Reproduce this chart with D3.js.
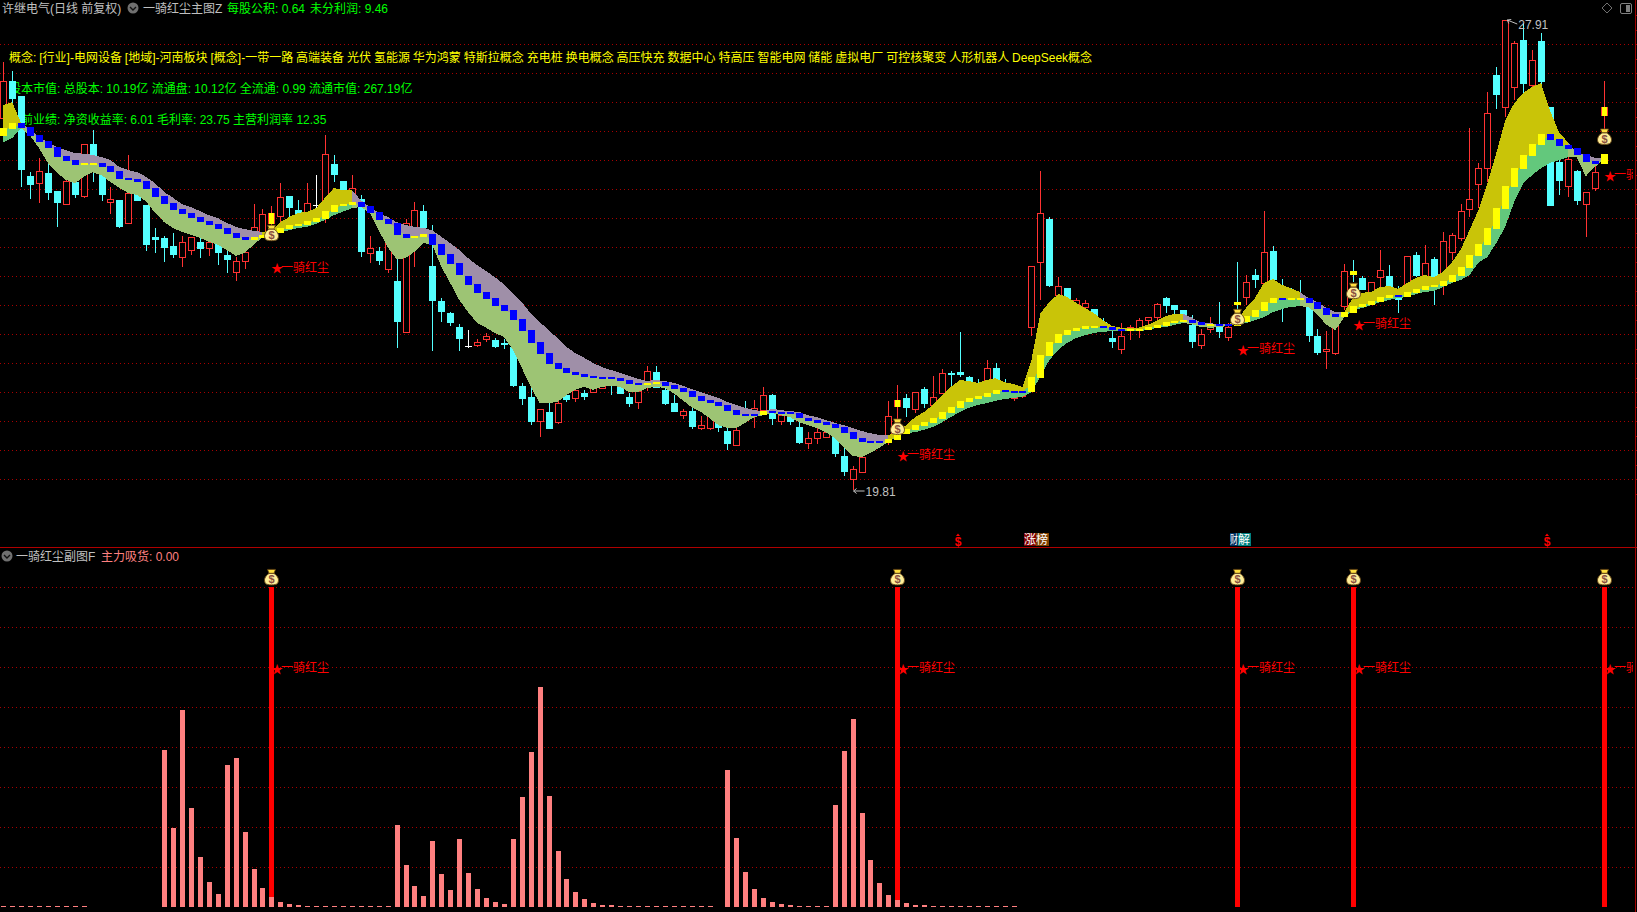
<!DOCTYPE html>
<html><head><meta charset="utf-8">
<style>
html,body{margin:0;padding:0;background:#000;overflow:hidden}
svg{display:block}
text{font-family:"Liberation Sans","Noto Sans CJK SC",sans-serif;font-size:12px;white-space:pre}
</style>
<script src="https://cdn.jsdelivr.net/npm/d3@7/dist/d3.min.js"></script>
</head><body><svg id="c" width="1637" height="912"></svg>
<script>
const opens=[26.23,26.86,26.60,25.23,25.10,25.28,24.97,24.74,25.12,24.88,25.78,25.24,24.78,24.81,24.42,24.93,24.73,24.17,24.16,24.02,23.83,23.95,24.09,23.98,24.05,23.86,23.57,23.76,24.21,24.26,24.42,24.54,24.88,24.64,24.61,24.73,24.64,25.43,25.14,24.86,24.83,23.90,23.93,23.62,23.42,22.54,24.29,24.62,23.67,23.07,22.86,22.62,22.29,22.31,22.42,22.40,22.35,22.28,21.61,21.42,21.00,21.16,20.98,21.45,21.40,21.48,21.50,21.57,21.71,21.59,21.42,21.33,21.61,21.85,21.54,21.31,21.10,21.17,20.88,20.88,21.07,20.83,20.59,21.14,21.12,21.19,21.45,21.00,21.07,20.90,20.62,20.71,20.73,20.73,20.40,20.00,20.12,20.54,20.64,20.76,21.26,21.40,21.21,21.55,21.28,21.48,21.83,21.85,21.76,21.62,21.71,21.92,21.62,21.40,21.43,22.62,23.74,24.48,23.17,23.29,23.00,22.97,22.93,22.71,22.43,22.24,22.57,22.61,22.74,22.79,23.12,23.00,22.92,22.66,22.31,22.59,22.64,22.45,23.05,23.14,23.52,23.38,23.93,23.17,23.26,23.17,22.97,22.47,22.21,22.17,22.98,23.59,23.47,23.05,23.48,23.50,23.17,23.31,23.86,23.48,23.79,23.38,23.92,24.16,24.66,25.09,25.36,26.97,26.42,26.76,27.57,26.79,27.55,26.42,25.47,25.05,25.31,24.74,25.02,26.28];
const closes=[26.86,26.55,25.33,25.07,25.31,24.93,24.76,25.14,24.90,25.78,25.42,24.90,24.83,24.35,24.93,24.79,24.04,24.12,23.98,23.86,24.09,24.17,23.97,24.09,23.90,23.78,23.76,23.92,24.35,24.57,24.61,24.86,24.67,24.55,24.76,24.73,25.61,25.24,24.98,25.02,23.92,23.98,23.76,24.17,22.71,24.42,24.64,24.33,23.07,22.88,22.69,22.42,22.29,22.36,22.47,22.28,22.31,21.61,21.38,20.98,21.21,20.86,21.31,21.36,21.54,21.42,21.57,21.62,21.62,21.47,21.29,21.52,21.86,21.57,21.29,21.16,21.17,20.90,20.93,21.10,20.88,20.61,20.85,21.05,21.23,21.45,21.04,21.10,20.98,20.62,20.71,20.81,20.81,20.43,20.12,20.17,20.38,20.59,20.69,21.09,21.38,21.23,21.50,21.29,21.42,21.83,21.79,21.79,21.67,21.54,21.92,21.71,21.50,21.54,21.50,23.67,24.59,23.33,23.33,23.09,23.09,23.04,22.79,22.64,22.36,22.47,22.62,22.74,22.79,23.02,22.98,22.92,22.79,22.36,22.50,22.62,22.54,22.62,23.04,23.40,23.43,23.92,23.43,23.09,23.17,23.09,22.47,22.17,22.24,22.64,23.59,23.52,23.26,23.40,23.60,23.31,23.09,23.85,23.50,23.73,23.48,24.10,24.21,24.62,24.83,25.36,26.31,26.62,27.91,27.52,26.81,27.23,26.85,24.71,25.14,25.52,24.79,24.95,25.29,26.43];
const highs=[27.19,27.04,26.60,25.29,25.54,25.45,24.97,25.16,25.16,25.78,26.02,25.33,25.04,24.81,25.59,24.98,24.73,24.33,24.19,24.24,24.19,24.17,24.16,24.29,24.24,24.04,23.83,24.00,24.74,24.66,24.71,25.10,24.88,24.81,25.10,25.24,25.93,25.59,25.14,25.24,24.90,24.19,24.00,24.17,23.79,24.48,24.78,24.73,24.38,23.12,22.88,22.67,22.57,22.42,22.52,22.43,22.42,22.28,21.66,21.61,21.21,21.48,21.42,21.50,21.57,21.54,21.61,21.64,21.74,21.62,21.48,21.59,21.95,21.95,21.66,21.45,21.21,21.36,21.09,21.24,21.14,21.02,20.97,21.35,21.36,21.59,21.47,21.19,21.10,21.02,20.81,20.88,20.90,20.85,20.54,20.22,20.38,20.64,20.73,21.35,21.62,21.47,21.50,21.59,21.78,21.90,21.86,22.54,21.78,21.73,22.05,22.00,21.73,21.57,21.54,23.67,25.31,24.52,23.48,23.29,23.12,23.09,22.93,22.78,22.61,22.69,22.66,22.78,22.79,23.04,23.14,23.00,22.92,22.83,22.59,22.79,23.05,22.69,23.74,23.52,23.62,24.62,24.02,23.45,23.29,23.43,23.09,22.59,22.55,22.64,23.71,23.78,23.50,23.40,23.95,23.69,23.33,23.85,23.92,24.04,23.83,24.26,24.24,24.74,26.05,25.45,26.67,27.10,27.91,27.55,27.86,27.40,27.69,26.42,25.67,25.59,25.33,24.95,25.42,26.86];
const lows=[25.93,26.45,25.04,24.83,24.76,24.81,24.35,24.74,24.85,24.85,25.12,24.79,24.57,24.33,24.42,24.79,23.93,23.90,23.74,23.81,23.66,23.86,23.81,23.85,23.69,23.55,23.42,23.62,24.12,24.26,24.12,24.38,24.52,24.47,24.59,24.64,24.42,25.12,24.90,24.83,23.83,23.73,23.69,23.55,22.26,22.54,23.66,24.29,22.21,22.71,22.64,22.21,22.26,22.28,22.36,22.26,22.24,21.59,21.28,20.93,20.73,20.86,20.95,21.33,21.33,21.36,21.48,21.55,21.45,21.47,21.24,21.21,21.52,21.57,21.28,21.16,21.04,20.86,20.85,20.85,20.81,20.50,20.59,21.02,20.88,21.10,20.93,20.93,20.93,20.60,20.52,20.60,20.73,20.38,20.05,19.81,20.12,20.50,20.59,20.59,20.67,21.07,21.14,21.23,21.24,21.48,21.59,21.76,21.59,21.48,21.59,21.67,21.48,21.35,21.40,22.47,23.09,23.31,23.09,23.04,22.95,22.92,22.76,22.61,22.26,22.16,22.40,22.43,22.66,22.74,22.86,22.83,22.79,22.26,22.24,22.52,22.43,22.38,22.74,23.00,23.29,23.38,23.43,22.71,23.09,23.09,22.36,22.14,21.90,22.14,22.92,23.40,23.26,23.05,23.21,23.31,22.86,23.16,23.48,23.43,23.00,23.17,23.78,24.10,24.52,24.67,25.12,26.38,26.24,26.54,26.66,26.76,26.71,24.71,24.90,24.86,24.73,24.17,24.97,26.02];
const bandTop=[26.45,26.50,26.14,26.02,25.90,25.81,25.73,25.67,25.62,25.61,25.59,25.55,25.50,25.38,25.33,25.29,25.21,25.10,24.95,24.85,24.74,24.69,24.62,24.55,24.50,24.42,24.35,24.31,24.28,24.26,24.29,24.43,24.52,24.59,24.61,24.67,24.85,25.02,24.98,24.98,24.81,24.69,24.59,24.52,24.43,24.38,24.35,24.33,24.29,24.18,24.07,23.95,23.81,23.69,23.59,23.48,23.36,23.21,23.05,22.86,22.71,22.57,22.43,22.28,22.17,22.09,22.00,21.93,21.88,21.83,21.78,21.73,21.69,21.71,21.69,21.66,21.61,21.55,21.50,21.45,21.40,21.33,21.28,21.23,21.19,21.17,21.21,21.19,21.17,21.16,21.10,21.07,21.02,20.97,20.93,20.88,20.83,20.79,20.76,20.76,20.81,20.93,21.07,21.16,21.28,21.45,21.59,21.71,21.69,21.66,21.71,21.74,21.67,21.64,21.59,22.05,22.86,23.05,23.19,23.14,23.04,22.95,22.86,22.74,22.64,22.61,22.61,22.61,22.66,22.73,22.81,22.85,22.85,22.78,22.69,22.69,22.67,22.67,22.74,22.95,23.12,23.38,23.45,23.35,23.29,23.23,23.12,23.05,22.95,22.88,22.88,23.14,23.21,23.23,23.31,23.33,23.28,23.38,23.47,23.52,23.48,23.57,23.73,23.95,24.29,24.64,25.10,25.62,26.19,26.48,26.66,26.76,26.83,26.36,25.98,25.81,25.61,25.59,25.54,25.54];
const bandBottom=[25.81,25.88,26.05,25.92,25.71,25.45,25.28,25.16,25.10,25.21,25.29,25.24,25.12,25.02,24.93,24.90,24.78,24.59,24.43,24.33,24.26,24.21,24.16,24.09,24.04,23.95,23.85,23.90,24.04,24.17,24.24,24.26,24.29,24.33,24.35,24.40,24.47,24.55,24.61,24.67,24.69,24.59,24.29,24.00,23.79,23.81,23.92,24.07,24.04,23.66,23.38,23.09,22.88,22.69,22.61,22.52,22.45,22.23,21.92,21.59,21.31,21.31,21.33,21.45,21.54,21.59,21.54,21.59,21.61,21.59,21.50,21.50,21.57,21.59,21.57,21.48,21.36,21.24,21.16,21.05,20.93,20.88,20.88,20.97,21.07,21.10,21.14,21.10,21.07,20.98,20.93,20.88,20.81,20.71,20.55,20.40,20.38,20.45,20.54,20.64,20.76,20.79,20.81,20.85,20.90,20.98,21.07,21.16,21.23,21.28,21.31,21.35,21.38,21.40,21.42,21.50,21.76,22.05,22.23,22.35,22.43,22.48,22.52,22.54,22.55,22.55,22.55,22.55,22.57,22.61,22.62,22.66,22.69,22.67,22.62,22.61,22.62,22.64,22.66,22.69,22.74,22.79,22.88,22.93,22.97,22.98,22.97,22.83,22.66,22.57,22.79,22.92,22.95,23.00,23.05,23.09,23.12,23.14,23.19,23.23,23.24,23.31,23.38,23.43,23.52,23.73,23.83,24.07,24.35,24.78,25.10,25.24,25.36,25.45,25.50,25.55,25.55,25.22,25.38,25.50];
const squareOpen=[25.92,26.04,26.14,26.07,25.93,25.83,25.73,25.57,25.50,25.42,25.42,25.45,25.40,25.31,25.19,25.17,25.14,25.02,24.88,24.76,24.66,24.59,24.52,24.45,24.40,24.33,24.24,24.17,24.12,24.16,24.19,24.24,24.31,24.36,24.38,24.43,24.48,24.61,24.71,24.73,24.78,24.71,24.61,24.48,24.42,24.23,24.16,24.17,24.23,24.05,23.88,23.73,23.50,23.36,23.23,23.12,23.00,22.92,22.76,22.57,22.36,22.17,22.00,21.92,21.85,21.81,21.78,21.76,21.76,21.74,21.71,21.66,21.62,21.64,21.67,21.62,21.57,21.52,21.43,21.36,21.33,21.28,21.19,21.12,21.12,21.10,21.17,21.16,21.16,21.14,21.05,21.02,20.98,20.95,20.90,20.81,20.71,20.66,20.66,20.62,20.67,20.78,20.85,20.92,20.97,21.04,21.14,21.23,21.33,21.38,21.42,21.47,21.54,21.52,21.52,21.50,21.74,22.12,22.35,22.48,22.55,22.59,22.62,22.64,22.62,22.59,22.55,22.57,22.57,22.61,22.64,22.69,22.71,22.74,22.71,22.66,22.67,22.67,22.64,22.71,22.79,22.90,23.04,23.12,23.10,23.10,23.12,23.05,22.95,22.85,22.79,22.86,22.97,23.00,23.05,23.12,23.17,23.14,23.21,23.26,23.31,23.33,23.40,23.50,23.64,23.85,24.04,24.31,24.66,25.04,25.35,25.57,25.76,25.95,25.86,25.76,25.71,25.61,25.48,25.43];
const squareClose=[26.05,26.14,26.05,25.92,25.81,25.71,25.55,25.48,25.42,25.45,25.45,25.38,25.29,25.17,25.16,25.12,25.00,24.86,24.74,24.64,24.57,24.50,24.43,24.38,24.31,24.23,24.16,24.12,24.17,24.21,24.33,24.33,24.38,24.40,24.45,24.50,24.62,24.73,24.74,24.78,24.69,24.59,24.47,24.40,24.21,24.16,24.19,24.23,24.04,23.86,23.71,23.52,23.35,23.21,23.10,22.98,22.90,22.74,22.55,22.35,22.16,21.98,21.90,21.83,21.79,21.76,21.74,21.74,21.73,21.69,21.64,21.62,21.66,21.67,21.61,21.55,21.50,21.42,21.35,21.31,21.26,21.17,21.10,21.10,21.10,21.17,21.14,21.14,21.12,21.05,21.00,20.97,20.93,20.88,20.79,20.69,20.64,20.62,20.62,20.69,20.78,20.86,20.93,20.98,21.05,21.16,21.24,21.35,21.40,21.43,21.48,21.54,21.50,21.50,21.50,21.76,22.14,22.36,22.50,22.57,22.61,22.64,22.64,22.62,22.57,22.55,22.59,22.59,22.62,22.66,22.71,22.73,22.74,22.69,22.66,22.67,22.66,22.64,22.69,22.81,22.92,23.05,23.12,23.10,23.12,23.12,23.04,22.93,22.83,22.79,22.88,22.98,23.02,23.07,23.14,23.17,23.14,23.23,23.28,23.33,23.35,23.41,23.52,23.66,23.86,24.05,24.33,24.67,25.05,25.36,25.59,25.78,25.95,25.85,25.74,25.69,25.59,25.47,25.43,25.61];
const bandUpRanges=[[0,2],[30,39],[100,132],[138,145],[151,175]];
const subValues=[0.3,0.3,0.3,0.3,0.3,0.3,0.3,0.3,0.3,0.3,0,0,0,0,0,0,0,0,49,24.7,61.6,31,15.6,7.8,4,44.4,46.6,23.4,11.9,5.9,3.1,1.5,0.9,0.6,0.3,0.3,0.3,0.3,0.3,0.3,0.3,0.3,0.3,0.3,25.6,13.1,6.6,3.4,20.6,10.3,5.3,21.3,10.6,5.6,2.8,1.6,0.9,21.3,34.4,48.4,68.8,34.7,17.5,8.8,4.7,2.5,1.3,0.6,0.6,0.3,0.3,0.3,0.3,0.3,0.3,0.3,0.3,0.3,0.3,0.3,0,42.8,21.6,10.9,5.6,2.8,1.6,0.9,0.6,0.3,0.3,0.3,0.3,31.9,48.8,58.8,29.4,14.7,7.5,3.8,2.2,1.3,0.6,0.6,0.3,0.3,0.3,0.3,0.3,0.3,0.3,0.3,0.3,0.3,0,0,0,0,0,0,0,0,0,0,0,0,0,0,0,0,0,0,0,0,0,0,0,0,0,0,0,0,0,0,0,0,0,0,0,0,0,0,0,0,0,0,0,0,0,0,0,0,0,0,0,0,0,0,0,0,0,0,0,0];
const signalIndex=[30,100,138,151,179];
const signalBagPrice=[24.24,20.90,22.79,23.24,25.90];
const signalLabelPrice=[23.66,20.43,22.26,22.69,25.26];
const signalSubValue=100, signalSubBag=103, signalSubLabel=75;
const mainGrid=[27.5,27,26.5,26,25.5,25,24.5,24,23.5,23,22.5,22,21.5,21,20.5,20];
const subGrid=[100,87.5,75,62.5,50,37.5,25,12.5];
const minorTicks=[28,27.75,27.5,27.25,27,26.75,26.5,26.25,26,25.75,25.5,25.25,25,24.75,24.5,24.25,24,23.75,23.5,23.25,23,22.75,22.5,22.25,22,21.75,21.5,21.25,21,20.75,20.5,20.25,20,19.75];
const headerTitle="许继电气(日线 前复权)", mainName="一骑红尘主图Z", subName="一骑红尘副图F";
const conceptLine="概念: [行业]-电网设备 [地域]-河南板块 [概念]-一带一路 高端装备 光伏 氢能源 华为鸿蒙 特斯拉概念 充电桩 换电概念 高压快充 数据中心 特高压 智能电网 储能 虚拟电厂 可控核聚变 人形机器人 DeepSeek概念";
const capitalLine="股本市值: 总股本: 10.19亿 流通盘: 10.12亿 全流通: 0.99 流通市值: 267.19亿";
const resultLine="当前业绩: 净资收益率: 6.01 毛利率: 23.75 主营利润率 12.35";
const signalText="一骑红尘";

const W=1637,H=912,plotRight=1633;
const svg=d3.select("#c");
svg.append("rect").attr("width",W).attr("height",H).attr("fill","#000");
const x=d3.scaleLinear().domain([0,179]).range([3.2,1603.6]);
const y=d3.scaleLinear().domain([28.26,19.64]).range([0,500]);
const ySub=d3.scaleLinear().domain([0,100]).range([907,587]);
const cx=i=>Math.round(x(i));
const GRID="#A80000",RED="#FF3232",CY="#54FFFF";

svg.append("clipPath").attr("id","plot").append("rect").attr("width",plotRight).attr("height",H);

function grid(scale,vals){
  const g=svg.append("g").attr("class","grid").call(d3.axisRight(scale).tickValues(vals).tickSize(plotRight).tickFormat(""));
  g.select(".domain").remove();
  g.selectAll("line").attr("stroke",GRID).attr("stroke-dasharray","1,3").attr("shape-rendering","crispEdges");
}
grid(y,mainGrid); grid(ySub,subGrid);
svg.append("line").attr("x1",0).attr("x2",W).attr("y1",547.5).attr("y2",547.5).attr("stroke","#B00000");
svg.append("line").attr("x1",1635.5).attr("x2",1635.5).attr("y1",0).attr("y2",H).attr("stroke","#A00000");
const rt=svg.append("g").attr("transform","translate(1635,0)").call(d3.axisRight(y).tickValues(minorTicks).tickSize(2).tickFormat(""));
rt.select(".domain").remove(); rt.selectAll("line").attr("stroke","#A00000").attr("shape-rendering","crispEdges");

function t(px,py,s,fill,extra){const e=svg.append("text").attr("x",px).attr("y",py+1).attr("fill",fill).attr("dominant-baseline","central").text(s);if(extra)extra(e);return e;}
t(2,8,headerTitle,"#C0C0C0");
function chevron(px,py){
  svg.append("circle").attr("cx",px).attr("cy",py).attr("r",5.5).attr("fill","#707070");
  svg.append("path").attr("d",`M${px-3},${py-1}L${px},${py+2}L${px+3},${py-1}`).attr("fill","none").attr("stroke","#111").attr("stroke-width",1.4);
}
chevron(133,8);
t(143,8,mainName,"#C0C0C0");
t(227,8,"每股公积: 0.64","#00FF00");
t(310,8,"未分利润: 9.46","#00FF00");
t(9,57,conceptLine,"#FFFF00",e=>e.style("word-spacing","-0.4px"));
t(9,88,capitalLine,"#00FF00");
t(9,119,resultLine,"#00FF00");
svg.append("path").attr("d","M1607,3L1612,8L1607,13L1602,8Z").attr("fill","none").attr("stroke","#707070");
svg.append("rect").attr("x",1620.5).attr("y",3.5).attr("width",11).attr("height",10).attr("rx",1.5).attr("fill","none").attr("stroke","#808080");
svg.append("rect").attr("x",1626).attr("y",5).attr("width",4).attr("height",7).attr("fill","#808080");

const idx=d3.range(opens.length);
const isSig=i=>signalIndex.includes(i);
const colorOf=i=>closes[i]>opens[i]?RED:closes[i]<opens[i]?CY:"#FFFFFF";
const cg=svg.append("g").attr("shape-rendering","crispEdges");
cg.selectAll("line").data(idx).join("line")
  .attr("x1",i=>cx(i)+.5).attr("x2",i=>cx(i)+.5)
  .attr("y1",i=>Math.round(y(highs[i]))).attr("y2",i=>Math.round(y(lows[i])))
  .attr("stroke",colorOf);
cg.selectAll("rect").data(idx).join("rect")
  .each(function(i){
    const top=Math.round(y(Math.max(opens[i],closes[i]))),bot=Math.round(y(Math.min(opens[i],closes[i])));
    const s=d3.select(this);
    const c=colorOf(i),up=closes[i]>opens[i];
    if(isSig(i)){
      s.attr("x",cx(i)-3).attr("y",top).attr("width",7).attr("height",Math.max(bot-top,3)).attr("fill","#FFFF00");
      if(up)s.attr("x",cx(i)-2.5).attr("y",top+.5).attr("width",6).attr("stroke",RED).attr("stroke-dasharray",`0,6,${Math.max(bot-top,3)},6,${Math.max(bot-top,3)}`);
    }else if(up){
      s.attr("x",cx(i)-2.5).attr("y",top+.5).attr("width",6).attr("height",Math.max(bot-top,1)).attr("fill","#000").attr("stroke",c);
    }else{
      s.attr("x",cx(i)-3).attr("y",top).attr("width",7).attr("height",Math.max(bot-top,1)).attr("fill",c);
    }
  });

const mid=i=>(squareOpen[i]+squareClose[i])/2;
const rising=i=>squareClose[i]>squareOpen[i];
const bandUp=i=>bandUpRanges.some(([a,b])=>i>=a&&i<=b);
const areaUpper=d3.area().x(i=>x(i)).y0(i=>y(bandTop[i])).y1(i=>y(mid(i)));
const areaLower=d3.area().x(i=>x(i)).y0(i=>y(mid(i))).y1(i=>y(bandBottom[i]));
const bg=svg.append("g").attr("shape-rendering","crispEdges");
d3.pairs(idx).forEach(([a,b])=>{
  const r=bandUp(b);
  bg.append("path").attr("d",areaUpper([a,b])).attr("fill",r?"#C9C408":"#9F8FA8");
  bg.append("path").attr("d",areaLower([a,b])).attr("fill",r?"#63C87C":"#9DC474");
});
bg.selectAll("rect").data(idx).join("rect")
  .attr("x",i=>cx(i)-3).attr("width",7)
  .attr("y",i=>Math.round(y(Math.max(squareOpen[i],squareClose[i]))))
  .attr("height",i=>Math.max(2,Math.round(y(Math.min(squareOpen[i],squareClose[i])))-Math.round(y(Math.max(squareOpen[i],squareClose[i])))))
  .attr("fill",i=>rising(i)?"#FFFF00":"#0000FF");

function bag(px,py){
  const g=svg.append("g").attr("transform",`translate(${px+.5},${py})`);
  g.append("path").attr("d","M-4,-8L4,-8L2.5,-4L-2.5,-4Z").attr("fill","#FFE040").attr("stroke","#5a3a10").attr("stroke-width",.8);
  g.append("path").attr("d","M-2.5,-4C-7,-1 -8,3 -6,6C-4,8 4,8 6,6C8,3 7,-1 2.5,-4Z").attr("fill","#FFEE98").attr("stroke","#6a4a18").attr("stroke-width",1);
  g.append("text").attr("x",0).attr("y",2).attr("text-anchor","middle").attr("dominant-baseline","central").attr("fill","#8a5040").attr("font-weight","700").style("font-size","11px").text("$");
}
signalIndex.forEach((s,k)=>bag(cx(s),y(signalBagPrice[k])));

const lab=svg.append("g").attr("clip-path","url(#plot)");
function label(px,py){
  lab.append("text").attr("x",px).attr("y",py+1).attr("dominant-baseline","central").attr("fill","#FF0000").style("font-size","12px").style("font-family","'Noto Sans CJK SC'").text("★");
  lab.append("text").attr("x",px+10).attr("y",py+1).attr("dominant-baseline","central").attr("fill","#FF0000").text(signalText);
}
signalIndex.forEach((s,k)=>label(cx(s),y(signalLabelPrice[k])));

function ext(i,price,ly,up){
  const px=x(i);
  svg.append("path").attr("d",up?`M${px+2},${ly-4}L${px+12},${ly}M${px+2},${ly-4}l4,-0.5M${px+2},${ly-4}l1.5,3.5`:`M${px+1},${ly}L${px+12},${ly}M${px+1},${ly}l3,-2.5M${px+1},${ly}l3,2.5`).attr("stroke","#C0C0C0").attr("fill","none");
  t(px+13,ly,price.toFixed(2),"#C0C0C0");
}
ext(d3.minIndex(lows),d3.min(lows),491,false);
ext(d3.maxIndex(highs),d3.max(highs),24,true);

function dollar(px){
  t(px,541,"$","#FF0000",e=>e.attr("text-anchor","middle").attr("font-weight","700").style("font-size","12px"));
  svg.append("path").attr("d",`M${px-2},536L${px},533.5L${px+2},536Z`).attr("fill","#FF0000");
}
dollar(958); dollar(1547);
function tag(px,w,s,bg,fill){
  svg.append("rect").attr("x",px).attr("y",533).attr("width",w).attr("height",13).attr("fill",bg);
  const e=t(px,538.5,s,fill);
  if(w<12)e.attr("textLength",w).attr("lengthAdjust","spacingAndGlyphs");
}
tag(1024,12,"涨","#800000","#FFF"); tag(1036,13,"榜","#804000","#FFF");
tag(1230,8,"财","#003060","#FFF"); tag(1238,13,"解","#008080","#FFF");

chevron(7,556);
t(16,556,subName,"#C0C0C0");
t(101,556,"主力吸货: 0.00","#FF8080");

const sg=svg.append("g").attr("shape-rendering","crispEdges");
signalIndex.forEach(s=>{
  sg.append("rect").attr("x",cx(s)-2).attr("width",5).attr("y",ySub(signalSubValue)).attr("height",ySub(0)-ySub(signalSubValue)).attr("fill","#FF0000");
  bag(cx(s),ySub(signalSubBag));
  label(cx(s),ySub(signalSubLabel));
});
sg.selectAll("rect.v").data(idx.filter(i=>subValues[i]>0)).join("rect").attr("class","v")
  .attr("x",i=>cx(i)-2).attr("width",5)
  .attr("y",i=>ySub(subValues[i])).attr("height",i=>Math.max(1,ySub(0)-ySub(subValues[i])))
  .attr("fill","#FF8080");
</script></body></html>
